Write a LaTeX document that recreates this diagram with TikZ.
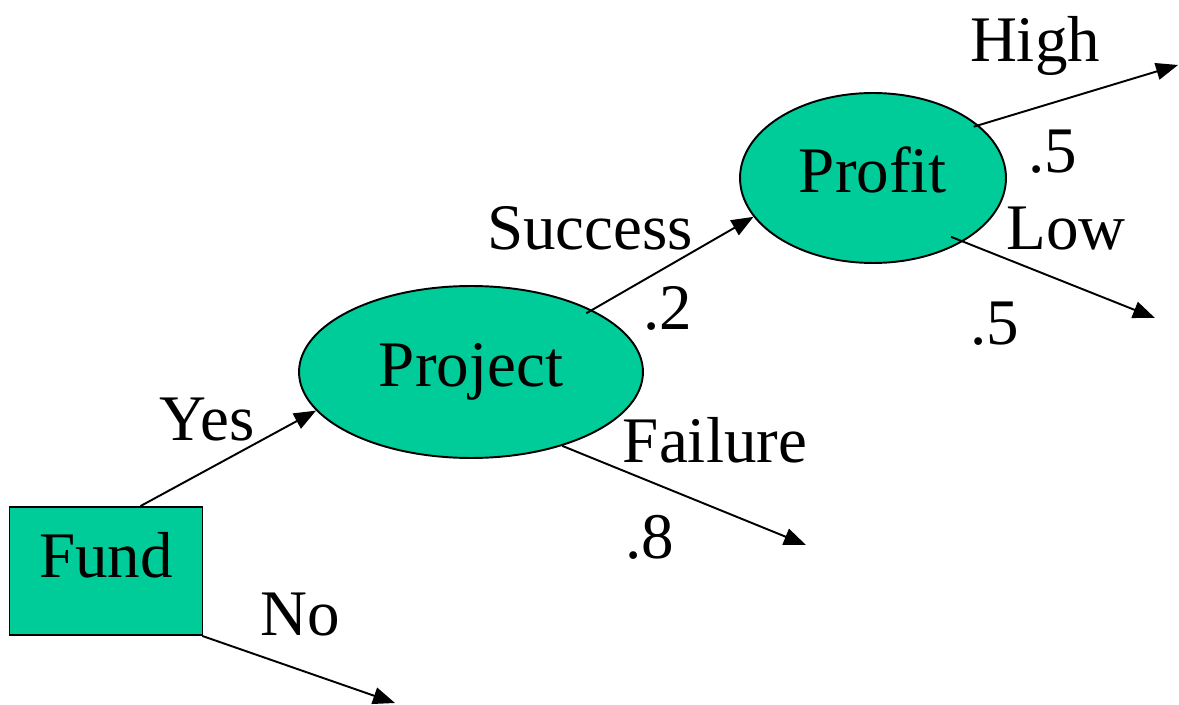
\documentclass[tikz,border=0pt]{standalone}
\usepackage{fontspec}
\setmainfont{Liberation Serif}
\usetikzlibrary{calc}
\usetikzlibrary{positioning}
\usetikzlibrary{shapes.geometric}
\usetikzlibrary{arrows.meta}
\definecolor{nodegreen}{HTML}{00CC99}
\tikzset{
  every node/.style={font=\fontsize{37}{44}\selectfont},
  decision/.style={draw, line width=1.1pt, fill=nodegreen, rectangle, minimum width=3.86cm, minimum height=2.56cm, text height=0.88cm, text depth=0.64cm},
  chance/.style={draw, line width=1.1pt, fill=nodegreen, ellipse, inner sep=0pt, text height=0.88cm, text depth=0.28cm},
  branch/.style={line width=1.1pt, -{Triangle[length=0.44cm, width=0.34cm]}},
  lbl/.style={anchor=base, inner sep=0pt}
}

\begin{document}
\begin{tikzpicture}[x=0.02cm, y=-0.02cm]
  \useasboundingbox (0,0) rectangle (1179,705);

  % nodes
  \node [decision] (fund) at (106,571) {Fund};
  \node [chance, minimum width=6.88cm, minimum height=3.44cm] (project) at (471,372) {Project};
  \node [chance, minimum width=5.32cm, minimum height=3.40cm] (profit) at (873,178) {Profit};

  % loose ends
  \coordinate (noEnd) at (395,703);
  \coordinate (failEnd) at (806,545);
  \coordinate (highEnd) at (1178,65);
  \coordinate (lowEnd) at (1155,318);

  \draw [branch] (fund.62) -- (project.194);
  \draw [branch] (fund.-34) -- (noEnd);
  \draw [branch] ($(project.center)!0.95!(project.27)$) -- (profit.198);
  \draw [branch] (project.-39) -- (failEnd);
  \draw [branch] ($(profit.center)!0.96!(profit.27)$) -- (highEnd);
  \draw [branch] ($(profit.center)!0.9!(profit.-37)$) -- (lowEnd);

  % labels
  \node [lbl] (yesL) at (207,440) {Yes};
  \node [lbl] (noL) at (300,635) {No};
  \node [lbl] (succL) at (590,250) {Success};
  \node [lbl] (succP) at (668,330) {.2};
  \node [lbl] (failL) at (715,462) {Failure};
  \node [lbl] (failP) at (650,558) {.8};
  \node [lbl] (highL) at (1035,62) {High};
  \node [lbl] (highP) at (1053,173) {.5};
  \node [lbl] (lowL) at (1066,250) {Low};
  \node [lbl] (lowP) at (995,345) {.5};

\end{tikzpicture}
\end{document}
